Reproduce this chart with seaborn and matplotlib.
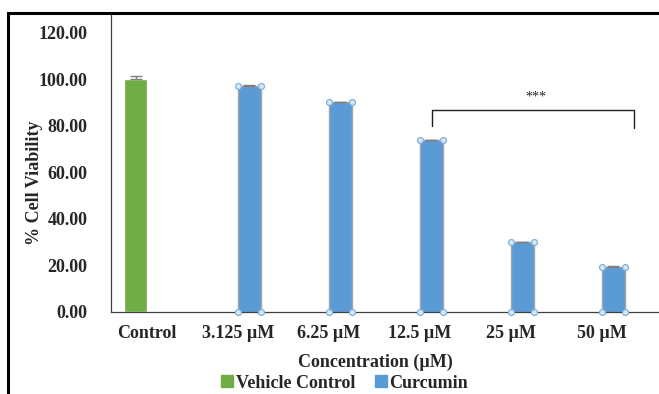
import pandas as pd
import matplotlib.pyplot as plt
import seaborn as sns
from matplotlib.lines import Line2D
from matplotlib.patches import Rectangle

# data
concentrations = ["Control", "3.125 \u00b5M", "6.25 \u00b5M", "12.5 \u00b5M",
                  "25 \u00b5M", "50 \u00b5M"]
groups = ["Vehicle Control", "Curcumin", "Curcumin", "Curcumin",
          "Curcumin", "Curcumin"]
viability = [100.0, 97.3, 90.2, 73.8, 30.0, 19.5]
sd = [1.3, 0.3, 0.3, 0.3, 0.3, 0.3]

green = "#70AD47"
blue = "#5B9BD5"

sns.set_style("white")
plt.rcParams['font.family'] = ['Liberation Serif', 'DejaVu Serif']
plt.rcParams['font.weight'] = 'bold'

df = pd.DataFrame({"conc": concentrations, "group": groups,
                   "viability": viability, "sd": sd})

fig = plt.figure(figsize=(6.59, 3.94), dpi=100)
ax = fig.add_axes([111 / 659, 82 / 394, 548 / 659, 299 / 394])

sns.barplot(data=df, x="conc", y="viability", hue="group",
            hue_order=["Vehicle Control", "Curcumin"],
            palette=[green, blue], width=0.5, dodge=True, saturation=1,
            errorbar=None, ax=ax, legend=False)

# error bars and corner handles from the drawn bars
for cont, color in zip(ax.containers, [green, blue]):
    for bar in cont:
        h = bar.get_height()
        if h != h or h == 0:
            continue
        x0 = bar.get_x()
        w = bar.get_width()
        row = df[df["viability"] == h].iloc[0]
        ax.errorbar(x0 + w / 2, h, yerr=[[0], [row["sd"]]], fmt="none",
                    ecolor="#7F7F7F", elinewidth=1, capsize=4, zorder=3)
        if color == blue:
            bar.set_edgecolor("#A5A5A5")
            bar.set_linewidth(1)
            ax.scatter([x0, x0 + w, x0, x0 + w], [0, 0, h, h], s=18,
                       facecolor="#D9E8F5", edgecolor="#7FAFD8",
                       linewidth=0.9, zorder=5, clip_on=False)

ax.set_xlim(-0.396, 5.626)
ax.set_ylim(0, 128.6)
ax.set_yticks([0, 20, 40, 60, 80, 100, 120])
ax.set_yticklabels(["{:.2f}".format(v) for v in [0, 20, 40, 60, 80, 100, 120]],
                   fontsize=13, fontweight="bold")
for lab in ax.get_xticklabels():
    lab.set_fontsize(13)
    lab.set_fontweight("bold")
ax.tick_params(axis="y", length=0, pad=17)
ax.tick_params(axis="x", length=0, pad=9)

sns.despine(ax=ax, top=True, right=True)
ax.spines["left"].set_color("#404040")
ax.spines["bottom"].set_color("#404040")
ax.spines["left"].set_linewidth(0.9)
ax.spines["bottom"].set_linewidth(0.9)

ax.set_xlabel("Concentration (\u00b5M)", fontsize=13, fontweight="bold")
ax.xaxis.set_label_coords(0.482, -0.14)
ax.set_ylabel("% Cell Viability", fontsize=13, fontweight="bold")
ax.yaxis.set_label_coords(-0.124, 0.431)

# significance bracket
ax.plot([3.13, 3.13, 5.35, 5.35], [80, 86.9, 86.9, 79], color="#222222",
        linewidth=1, clip_on=False)
ax.text(4.27, 92.5, "***", ha="center", va="center", fontsize=10,
        fontweight="normal")

# legend
handles = [Line2D([], [], marker="s", linestyle="none", color=green,
                  markersize=8),
           Line2D([], [], marker="s", linestyle="none", color=blue,
                  markersize=8)]
fig.legend(handles, ["Vehicle Control", "Curcumin"], loc="center",
           bbox_to_anchor=(344 / 659, 1 - 383 / 394), ncol=2, frameon=False,
           prop={"size": 13, "weight": "bold"}, handletextpad=0.1,
           columnspacing=1.0, handlelength=0.8)

# outer frame (top and left edges visible)
fig.add_artist(Rectangle((8 / 659, -0.1), 1.2, 1 - 13 / 394 + 0.1,
                         transform=fig.transFigure, fill=False,
                         edgecolor="black", linewidth=2.2))

fig.savefig("out.png", dpi=100)
